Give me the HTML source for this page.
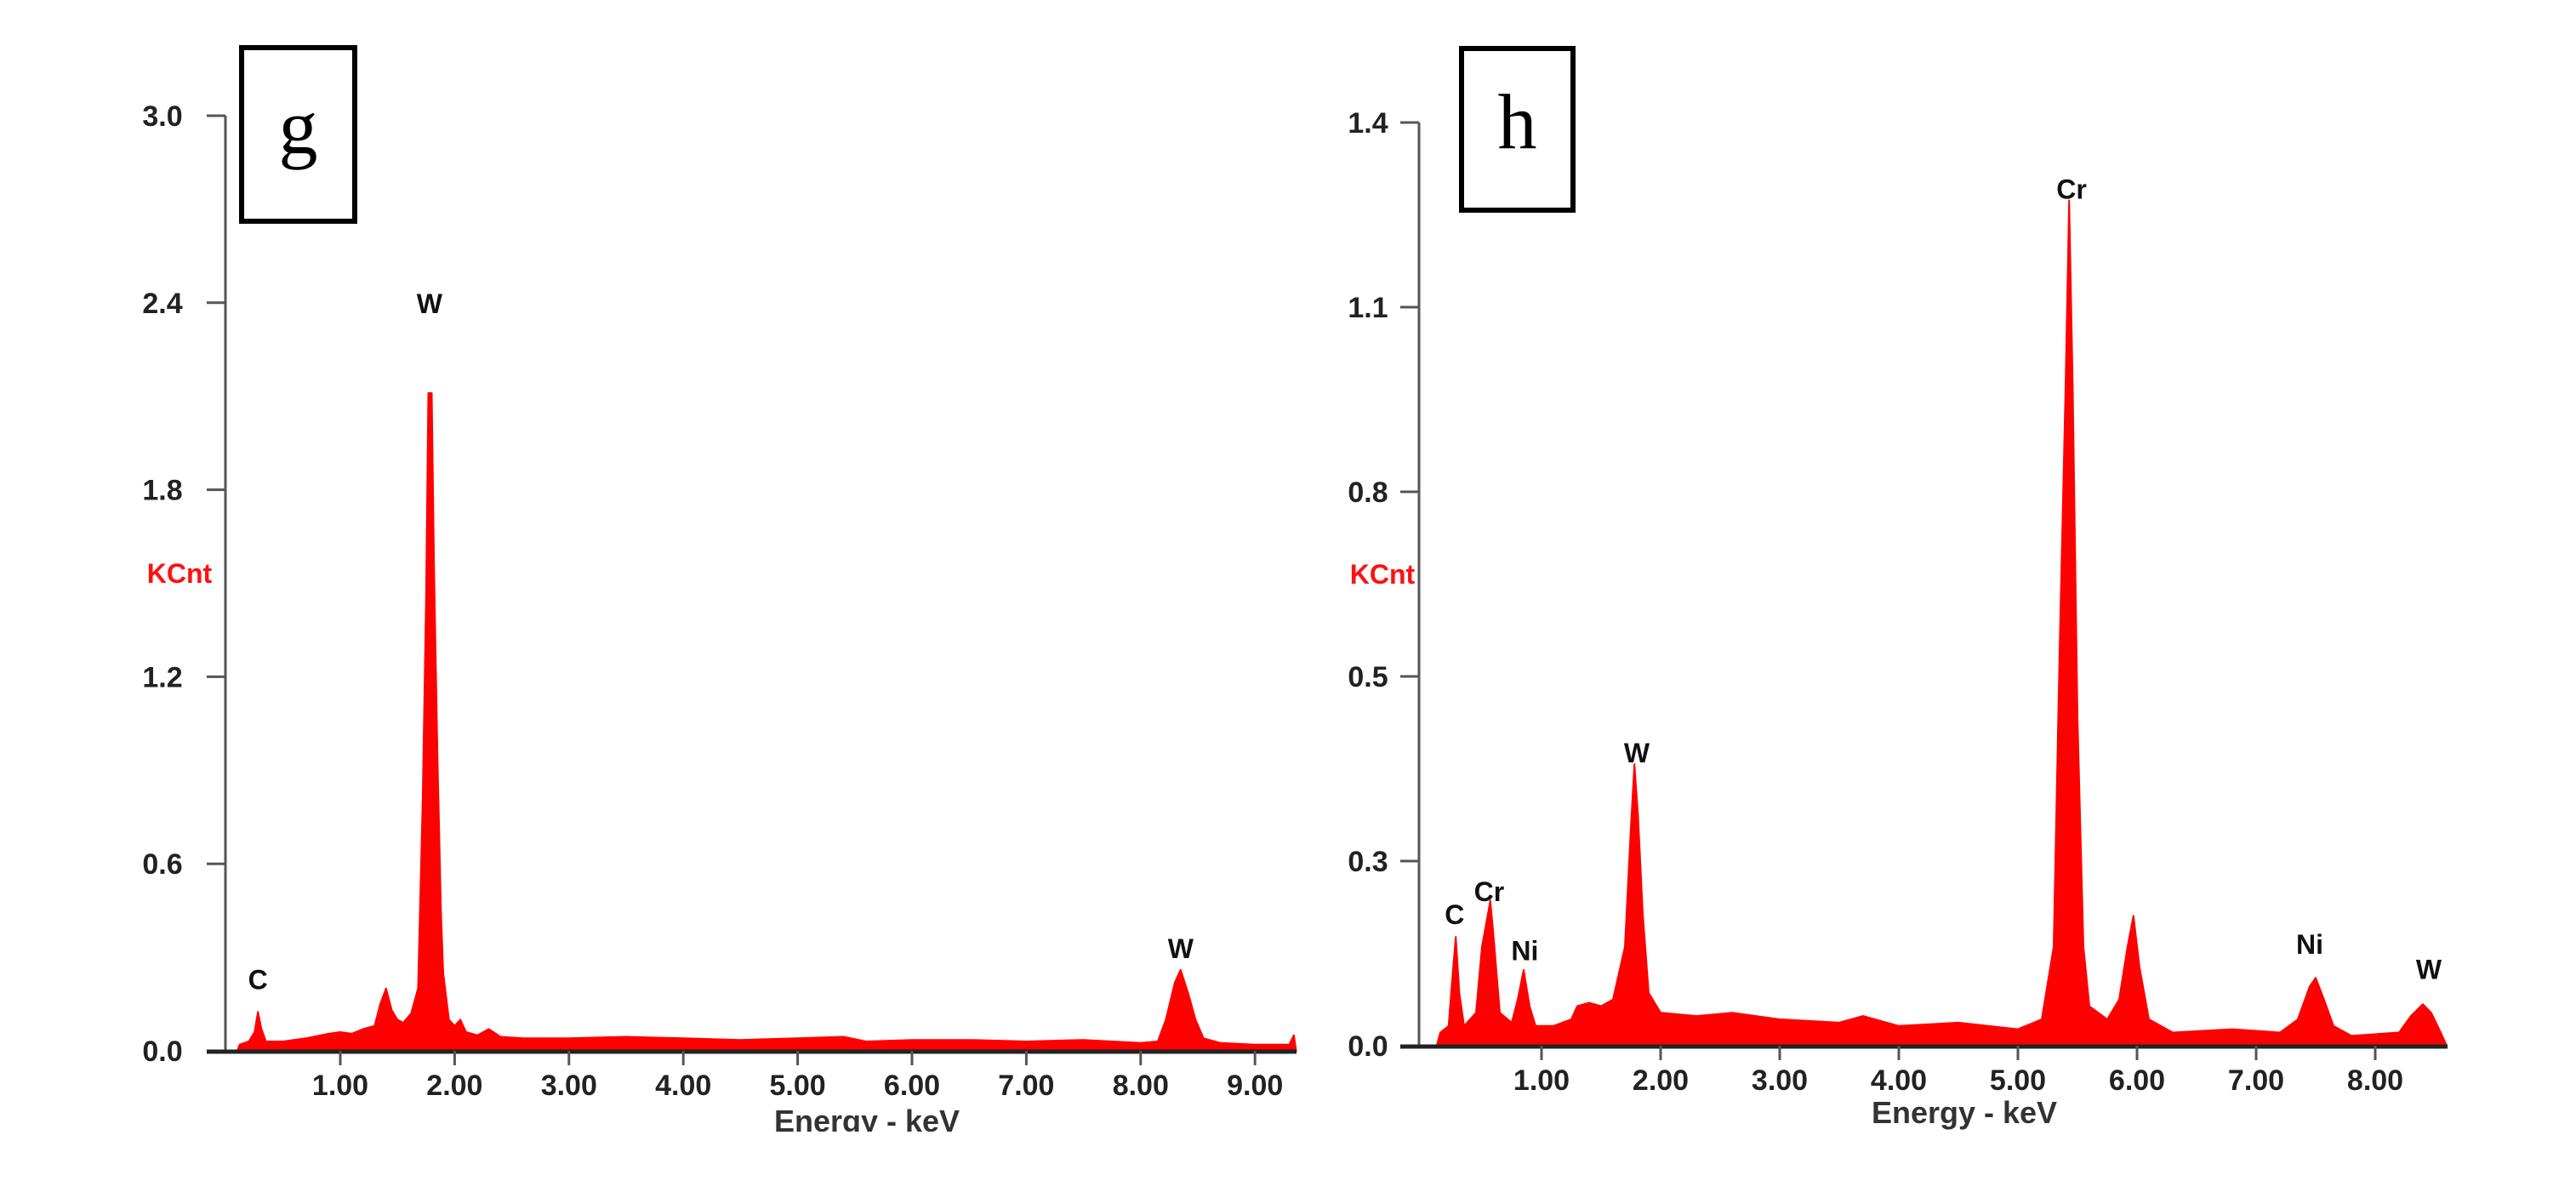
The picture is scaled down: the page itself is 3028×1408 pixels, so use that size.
<!DOCTYPE html>
<html><head><meta charset="utf-8"><style>
html,body{margin:0;padding:0;background:#fff;}
svg{display:block;}
text{font-family:"Liberation Sans",sans-serif;}
</style></head><body>
<svg id="svg" width="3028" height="1408" viewBox="0 0 3028 1408" xmlns="http://www.w3.org/2000/svg">
<defs><clipPath id="clipG"><rect x="0" y="0" width="1550" height="1330"/></clipPath></defs>
<rect x="0" y="0" width="3028" height="1408" fill="#fff"/>
</svg>
<script>
// ---- Chart g data ----
const gEnergy = [0.10,0.12,0.2,0.25,0.28,0.31,0.35,0.5,0.7,0.9,1.0,1.1,1.2,1.3,1.35,1.4,1.45,1.5,1.55,1.62,1.68,1.72,1.75,1.77,1.80,1.82,1.85,1.88,1.9,1.95,2.0,2.05,2.1,2.2,2.3,2.4,2.6,3.0,3.5,4.0,4.5,5.0,5.4,5.6,6.0,6.5,7.0,7.5,8.0,8.15,8.22,8.3,8.35,8.42,8.48,8.55,8.7,9.0,9.3,9.34,9.36];
const gCounts = [0,0.02,0.03,0.06,0.125,0.07,0.03,0.03,0.04,0.055,0.06,0.055,0.07,0.08,0.15,0.2,0.13,0.1,0.09,0.12,0.2,0.8,1.45,2.11,2.11,1.55,0.95,0.45,0.25,0.1,0.08,0.1,0.06,0.05,0.07,0.045,0.04,0.04,0.045,0.04,0.035,0.04,0.045,0.03,0.035,0.035,0.03,0.035,0.025,0.03,0.1,0.22,0.26,0.18,0.1,0.04,0.025,0.02,0.02,0.05,0];
const gYTicks = [0,0.6,1.2,1.8,2.4,3.0];
const gYTickLabels = ["0.0","0.6","1.2","1.8","2.4","3.0"];
const gXTicks = [1,2,3,4,5,6,7,8,9];
const gXTickLabels = ["1.00","2.00","3.00","4.00","5.00","6.00","7.00","8.00","9.00"];
const gPeakNames = ["C","W","W"];
const gPeakE = [0.28,1.78,8.35];
const gPeakLabelV = [0.23,2.4,0.33];

// ---- Chart h data ----
const hEnergy = [0.12,0.15,0.22,0.25,0.28,0.31,0.35,0.45,0.5,0.55,0.57,0.6,0.65,0.75,0.8,0.85,0.9,0.95,1.1,1.25,1.3,1.4,1.5,1.6,1.7,1.75,1.78,1.81,1.85,1.9,2.0,2.3,2.6,3.0,3.5,3.7,4.0,4.5,5.0,5.2,5.3,5.35,5.4,5.43,5.46,5.5,5.55,5.6,5.75,5.85,5.92,5.97,6.02,6.1,6.3,6.8,7.2,7.35,7.45,7.5,7.57,7.65,7.8,8.2,8.3,8.4,8.47,8.55,8.6];
const hCounts = [0,0.02,0.03,0.1,0.165,0.08,0.03,0.05,0.15,0.2,0.22,0.16,0.05,0.035,0.07,0.115,0.06,0.03,0.03,0.04,0.06,0.065,0.06,0.07,0.15,0.33,0.427,0.35,0.2,0.08,0.05,0.045,0.05,0.04,0.035,0.045,0.03,0.035,0.025,0.04,0.15,0.6,1.0,1.282,1.0,0.5,0.15,0.06,0.04,0.07,0.15,0.197,0.12,0.04,0.02,0.025,0.02,0.04,0.09,0.103,0.07,0.03,0.015,0.02,0.045,0.063,0.05,0.02,0];
const hYTicks = [0,0.28,0.56,0.84,1.12,1.4];
const hYTickLabels = ["0.0","0.3","0.5","0.8","1.1","1.4"];
const hXTicks = [1,2,3,4,5,6,7,8];
const hXTickLabels = ["1.00","2.00","3.00","4.00","5.00","6.00","7.00","8.00"];
const hPeakNames = ["C","Cr","Ni","W","Cr","Ni","W"];
const hPeakE = [0.27,0.56,0.86,1.8,5.45,7.45,8.45];
const hPeakLabelV = [0.2,0.235,0.145,0.445,1.3,0.155,0.117];

const NS="http://www.w3.org/2000/svg";
const svg=document.getElementById('svg');
function mk(tag,attrs,parent){const e=document.createElementNS(NS,tag);for(const k in attrs)e.setAttribute(k,attrs[k]);(parent||svg).appendChild(e);return e;}

function drawChart(c){
  const g=mk('g',{});
  
  
  const xs=v=>c.xorig+v*c.perKeV;
  const ys=v=>c.y0-v*(c.y0-c.y1)/c.ymax;
  let d='M'+xs(c.E[0])+','+ys(0);
  for(let i=0;i<c.E.length;i++) d+=' L'+xs(c.E[i]).toFixed(1)+','+ys(c.C[i]).toFixed(1);
  d+=' L'+xs(c.E[c.E.length-1])+','+ys(0)+' Z';
  const sp=mk('path',{d:d,fill:'#ff0000',stroke:'#ff0000','stroke-width':2,'stroke-linejoin':'round'},g);
  
  
  const ya=mk('line',{x1:c.x0,y1:c.y1,x2:c.x0,y2:c.y0,stroke:'#555','stroke-width':3},g);
  
  
  c.yt.forEach((v,i)=>{
    mk('line',{x1:c.x0-22,y1:ys(v),x2:c.x0,y2:ys(v),stroke:'#555','stroke-width':3},g);
    const t=mk('text',{x:c.ylx,y:ys(v)+12,'font-size':34,'font-weight':'bold',fill:'#222','text-anchor':'middle'},g);
    t.textContent=c.ytl[i];
    
    
  });
  const xa=mk('line',{x1:c.x0-22,y1:c.y0+1,x2:c.xend,y2:c.y0+1,stroke:'#222','stroke-width':5},g);
  
  
  c.xt.forEach((v,i)=>{
    mk('line',{x1:xs(v),y1:c.y0,x2:xs(v),y2:c.y0+17,stroke:'#555','stroke-width':3},g);
    const t=mk('text',{x:xs(v),y:c.y0+52,'font-size':34,'font-weight':'bold',fill:'#222','text-anchor':'middle'},g);
    t.textContent=c.xtl[i];
    
    
  });
  const tt=mk('text',{x:c.titleX,y:c.titleY,'font-size':36,'font-weight':'bold',fill:'#333','text-anchor':'middle'},g);
  tt.textContent='Energy - keV';
  
  
  if(c.clip) tt.setAttribute('clip-path','url(#clipG)');
  const kc=mk('text',{x:c.kx,y:c.ky+11,'font-size':32,'font-weight':'bold',fill:'#ff1010','text-anchor':'middle'},g);
  kc.textContent='KCnt';
  
  
  c.pn.forEach((n,i)=>{
    const t=mk('text',{x:xs(c.pe[i]),y:ys(c.pv[i])+12,'font-size':32,'font-weight':'bold',fill:'#111','text-anchor':'middle'},g);
    t.textContent=n;
    
    
  });
  const b=mk('rect',{x:c.bx+3,y:c.by+3,width:c.bw-6,height:c.bh-6,fill:'#fff',stroke:'#000','stroke-width':6},g);
  
  
  const lt=mk('text',{x:c.bx+c.bw/2,y:c.by+c.bh/2+22,'font-size':92,fill:'#000','text-anchor':'middle'},g);
  lt.setAttribute('style','font-family:"Liberation Serif",serif');
  lt.textContent=c.letter;
  
  
}

drawChart({name:'chart-g',x0:265,xorig:265.6,perKeV:134.4,xend:1524,y0:1235,y1:136,ymax:3.0,
  E:gEnergy,C:gCounts,yt:gYTicks,ytl:gYTickLabels,xt:gXTicks,xtl:gXTickLabels,
  pn:gPeakNames,pe:gPeakE,pv:gPeakLabelV,ylx:191,kx:211,ky:674,titleX:1019,titleY:1330,clip:true,
  bx:281,by:53,bw:139,bh:210,letter:'g'});
drawChart({name:'chart-h',x0:1668,xorig:1672,perKeV:140,xend:2877,y0:1229,y1:144,ymax:1.4,
  E:hEnergy,C:hCounts,yt:hYTicks,ytl:hYTickLabels,xt:hXTicks,xtl:hXTickLabels,
  pn:hPeakNames,pe:hPeakE,pv:hPeakLabelV,ylx:1608,kx:1625,ky:675,titleX:2309,titleY:1320,clip:false,
  bx:1715,by:54,bw:137,bh:196,letter:'h'});
</script>
</body></html>
